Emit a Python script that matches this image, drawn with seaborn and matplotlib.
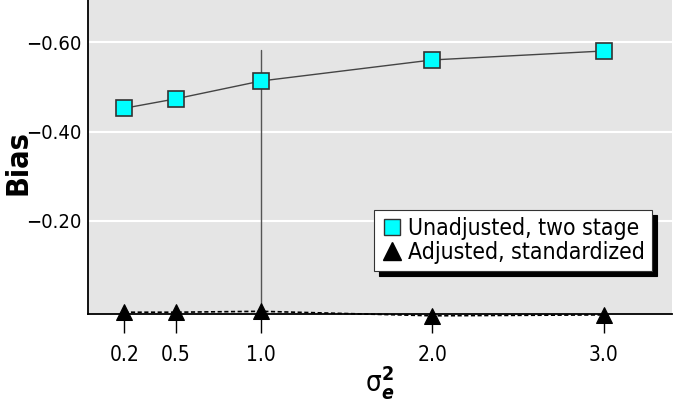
import numpy as np
import pandas as pd
import matplotlib
matplotlib.use('Agg')
import matplotlib.pyplot as plt
from matplotlib import font_manager
import seaborn as sns

sns.set_theme(style="white")
names = {f.name for f in font_manager.fontManager.ttflist}
fam = 'Liberation Sans Narrow' if 'Liberation Sans Narrow' in names else 'DejaVu Sans'
plt.rcParams['font.family'] = [fam, 'DejaVu Sans']
plt.rcParams['font.stretch'] = 'condensed'
plt.rcParams['mathtext.fontset'] = 'dejavusans'
plt.rcParams['text.color'] = 'black'
plt.rcParams['axes.labelcolor'] = 'black'
plt.rcParams['xtick.color'] = 'black'
plt.rcParams['ytick.color'] = 'black'

# Данные
sigma_e2 = [0.2, 0.5, 1.0, 2.0, 3.0]
bias_unadjusted = [-0.452, -0.473, -0.513, -0.560, -0.580]
bias_adjusted = [0.004, 0.004, 0.002, 0.012, 0.010]
labels = ['Unadjusted, two stage', 'Adjusted, standardized']
xticks = [0.2, 0.5, 1.0, 2.0, 3.0]
yticks = [-0.60, -0.40, -0.20]

df = pd.DataFrame({
    'x': sigma_e2 * 2,
    'bias': bias_unadjusted + bias_adjusted,
    'series': [labels[0]] * 5 + [labels[1]] * 5,
})

fig = plt.figure(figsize=(6.74, 4.04), dpi=100)
ax = fig.add_axes([88 / 674, 1 - 314 / 404, (672 - 88) / 674, 314 / 404])
ax.set_facecolor('#e5e5e5')

# вертикальная линия на 1.0
ax.plot([1.0, 1.0], [0.0, bias_unadjusted[-1] - 0.002], color='#555555', lw=1.0, zorder=1)

sns.lineplot(data=df[df.series == labels[0]], x='x', y='bias', ax=ax,
             color='#444444', lw=1.0, marker='s', markersize=11,
             markerfacecolor='#00ffff', markeredgecolor='#333333', markeredgewidth=1.2,
             label=labels[0], zorder=3, legend=False)
sns.lineplot(data=df[df.series == labels[1]], x='x', y='bias', ax=ax,
             color='black', lw=1.2, ls=(0, (2.5, 1.5)), marker='^', markersize=12,
             markerfacecolor='black', markeredgecolor='black',
             label=labels[1], zorder=4, legend=False, clip_on=False)

ax.set_xlim(-0.012, 3.40)
ax.set_ylim(0.008, -0.694)
ax.set_xticks(xticks)
ax.set_xticklabels(['0.2', '0.5', '1.0', '2.0', '3.0'])
ax.set_yticks(yticks)
ax.set_yticklabels(['\u22120.60', '\u22120.40', '\u22120.20'])
ax.grid(axis='y', color='white', lw=1.5)
ax.grid(axis='x', visible=False)
ax.tick_params(axis='x', bottom=True, length=14, width=1, color='black', direction='out',
               labelsize=15, pad=8)
ax.tick_params(axis='y', left=False, length=0, labelsize=14.5, pad=5)

for s in ['top', 'right']:
    ax.spines[s].set_visible(False)
for s in ['left', 'bottom']:
    ax.spines[s].set_color('black')
    ax.spines[s].set_linewidth(1.3)

ax.set_xlabel(r'$\mathrm{\sigma}_{\boldsymbol{e}}^{\mathbf{2}}$', fontsize=20, labelpad=0)
ax.set_ylabel('Bias', fontsize=22, fontweight='bold')
ax.yaxis.set_label_coords((32 - 88) / 584, 1 - 163 / 314)

handles = [
    plt.Line2D([], [], ls='none', marker='s', markersize=11, markerfacecolor='#00ffff',
               markeredgecolor='#333333'),
    plt.Line2D([], [], ls='none', marker='^', markersize=13, markerfacecolor='black',
               markeredgecolor='black'),
]
leg = ax.legend(handles, labels, loc='upper left', bbox_to_anchor=((374 - 88) / 584, 1 - 210 / 314),
                fontsize=16.5, frameon=True, fancybox=False,
                shadow={'color': 'black', 'alpha': 1, 'ox': 3.5, 'oy': -3.5},
                handletextpad=0.2, handlelength=1.0, borderpad=0.3, labelspacing=0.05,
                borderaxespad=0)
leg.get_frame().set_edgecolor('#333333')
leg.get_frame().set_linewidth(0.8)
leg.get_frame().set_alpha(1)

fig.savefig('out.png', dpi=100)
